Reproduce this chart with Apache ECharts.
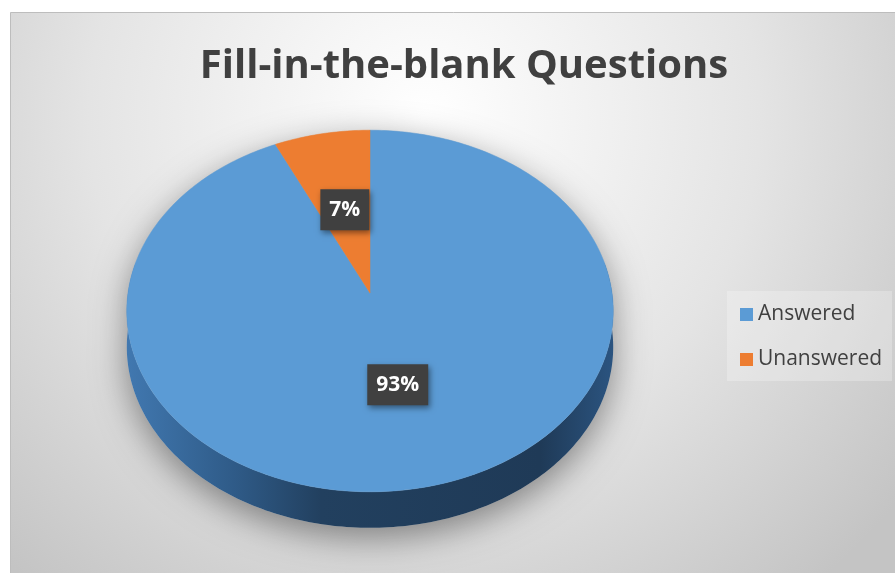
<!DOCTYPE html>
<html>
<head>
<meta charset="utf-8">
<script src="https://cdn.jsdelivr.net/npm/echarts@6/dist/echarts.min.js"></script>
<style>
html,body{margin:0;padding:0;background:#fff;}
#chart{width:895px;height:573px;}
</style>
</head>
<body>
<div id="chart"></div>
<script>
// ---- data ----
const categories = ['Answered', 'Unanswered'];
const values = [93, 7];
const colors = ['#5b9bd5', '#ed7d31'];
const titleText = 'Fill-in-the-blank Questions';

// ---- layout constants (3D perspective pie) ----
const CX = 370, CY = 293, A = 242, B = 179, K = 0.0995, DEPTH = 36;

function project(u, v, dy) {
  const w = 1 + K * v;
  return [CX + A * u / w, CY - B * v / w + (dy || 0)];
}
function arcPoints(a0, a1, r, dy) {
  const pts = [];
  const n = Math.max(2, Math.ceil(Math.abs(a1 - a0) / (Math.PI / 180)));
  for (let j = 0; j <= n; j++) {
    const t = a0 + (a1 - a0) * j / n;
    pts.push(project(r * Math.sin(t), r * Math.cos(t), dy));
  }
  return pts;
}
const total = values.reduce((s, v) => s + v, 0);

function renderItem(params, api) {
  const i = params.seriesIndex;
  const val = api.value(0);
  let before = 0;
  for (let j = 0; j < i; j++) before += values[j];
  const a0 = before / total * Math.PI * 2;
  const a1 = a0 + val / total * Math.PI * 2;
  const children = [];

  if (i === 0) {
    // ground shadow silhouette of whole pie
    const sil = [];
    const n = 360;
    for (let j = 0; j <= n; j++) {
      const t = j / n * Math.PI * 2;
      const u = Math.sin(t), v = Math.cos(t);
      sil.push(project(u, v, v < 0 ? DEPTH : 0));
    }
    children.push({
      type: 'polygon', z2: 0, silent: true,
      shape: { points: sil },
      style: { fill: '#c9c9c9', shadowBlur: 34, shadowColor: 'rgba(0,0,0,0.42)', shadowOffsetY: 10 }
    });
  }

  // visible side band (front part)
  const f0 = Math.max(a0, Math.PI * 80 / 180), f1 = Math.min(a1, Math.PI * 280 / 180);
  if (f1 > f0) {
    const top = arcPoints(f0, f1, 1, 0);
    const bot = arcPoints(f0, f1, 1, DEPTH).reverse();
    children.push({
      type: 'polygon', z2: 1, silent: true,
      shape: { points: top.concat(bot) },
      style: {
        fill: i === 0 ? {
          type: 'linear', x: 0, y: 0, x2: 1, y2: 0,
          colorStops: [
            { offset: 0, color: '#4178b0' },
            { offset: 0.22, color: '#2f5b88' },
            { offset: 0.4, color: '#22405f' },
            { offset: 0.85, color: '#1f3a57' },
            { offset: 1, color: '#2b5480' }
          ]
        } : '#a9541c'
      }
    });
  }

  // top face
  const face = [project(0, 0, 0)].concat(arcPoints(a0, a1, 1, 0));
  children.push({
    type: 'polygon', z2: 5,
    shape: { points: face },
    style: { fill: colors[i], stroke: colors[i], lineWidth: 0.5 }
  });

  // data label
  const mid = (a0 + a1) / 2;
  const lp = project(0.5 * Math.sin(mid), 0.5 * Math.cos(mid), 0);
  children.push({
    type: 'text', z2: 10, x: lp[0], y: lp[1], silent: true,
    style: {
      text: Math.round(val / total * 100) + '%',
      fill: '#ffffff',
      font: 'bold 21px "Open Sans", sans-serif',
      align: 'center', verticalAlign: 'middle',
      backgroundColor: '#404040',
      padding: [10, 9, 10, 9],
      shadowBlur: 6, shadowColor: 'rgba(0,0,0,0.45)', shadowOffsetX: 2, shadowOffsetY: 3
    }
  });
  return { type: 'group', children: children };
}

const chart = echarts.init(document.getElementById('chart'), null, { renderer: 'canvas' });
const series = categories.map((name, i) => ({
  type: 'custom',
  name: name,
  coordinateSystem: 'none',
  renderItem: renderItem,
  itemStyle: { color: colors[i] },
  data: [[values[i]]],
  animation: false
}));

chart.setOption({
  backgroundColor: '#ffffff',
  animation: false,
  graphic: [{
    type: 'rect', z: -10, silent: true,
    shape: { x: 10.5, y: 12.5, width: 900, height: 580 },
    style: {
      fill: {
        type: 'radial', x: 0.46, y: 0.18, r: 1.05,
        colorStops: [
          { offset: 0, color: '#ffffff' },
          { offset: 0.55, color: '#e4e4e4' },
          { offset: 1, color: '#c4c4c4' }
        ]
      },
      stroke: '#bdbdbd', lineWidth: 1
    }
  }],
  title: {
    text: titleText,
    left: 459, top: 42, textAlign: 'center',
    textStyle: { fontFamily: '"Open Sans", sans-serif', fontWeight: 'bold', fontSize: 40, color: '#404040' }
  },
  legend: {
    orient: 'vertical',
    left: 727, top: 291,
    icon: 'rect',
    itemWidth: 13, itemHeight: 13, itemGap: 24,
    padding: [13, 10, 11, 13],
    backgroundColor: 'rgba(255,255,255,0.25)',
    data: categories,
    textStyle: { fontFamily: '"Open Sans", sans-serif', fontSize: 21, color: '#404040' }
  },
  series: series
});
</script>
</body>
</html>
